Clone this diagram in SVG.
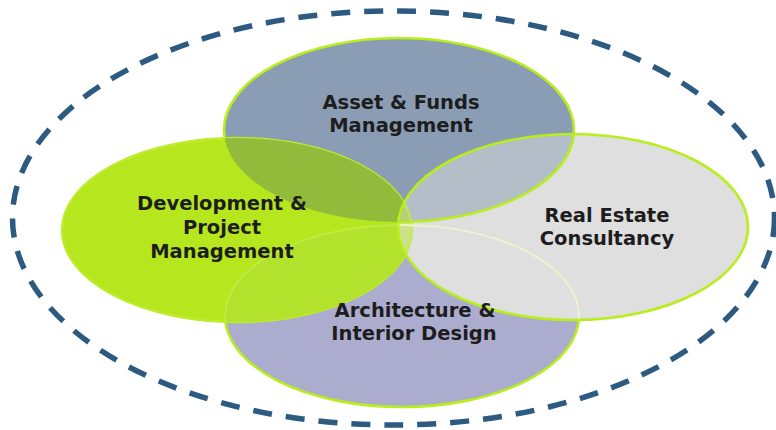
<svg xmlns="http://www.w3.org/2000/svg" width="776" height="430" viewBox="0 0 776 430">
  <style>
    .lbl { font-family: "DejaVu Sans", "Verdana", sans-serif; font-weight: bold; font-size: 19.5px; fill: #1d1d1d; text-anchor: middle; }
    .outline { fill: none; stroke: #b8ee1e; stroke-width: 2.6; }
  </style>
  <defs>
    <clipPath id="clipLeft"><ellipse cx="237" cy="230" rx="175" ry="92"/></clipPath>
    <clipPath id="clipRight"><ellipse cx="573" cy="227" rx="175" ry="93"/></clipPath>
  </defs>

  <g id="boundary">
    <ellipse cx="393.5" cy="218" rx="381" ry="207" fill="none" stroke="#2c5a80" stroke-width="5.5" stroke-dasharray="19 14"/>
  </g>

  <g id="node-architecture">
    <ellipse cx="402" cy="316" rx="177" ry="91" fill="#abacce" class="outline" style="fill:#abacce"/>
  </g>

  <g id="node-asset">
    <ellipse cx="399" cy="130" rx="175" ry="92" class="outline" style="fill:#8a9db4"/>
  </g>

  <g id="node-development">
    <ellipse cx="237" cy="230" rx="175" ry="92" style="fill:#b5e61e;stroke:#bdec2c;stroke-width:2.4"/>
    <g clip-path="url(#clipLeft)">
      <ellipse cx="399" cy="130" rx="175" ry="92" fill="#93bb3b"/>
      <ellipse cx="402" cy="316" rx="177" ry="91" fill="#b3e22c"/>
      <ellipse cx="402" cy="316" rx="177" ry="91" fill="none" stroke="#c8ef5a" stroke-width="2" stroke-opacity="0.6"/>
    </g>
  </g>

  <g id="node-realestate">
    <ellipse cx="573" cy="227" rx="175" ry="93" fill="#dfdfdf"/>
    <g clip-path="url(#clipRight)">
      <ellipse cx="399" cy="130" rx="175" ry="92" fill="#b4bec9"/>
      <ellipse cx="399" cy="130" rx="175" ry="92" class="outline"/>
      <ellipse cx="237" cy="230" rx="175" ry="92" fill="#b5e61e" fill-opacity="0.45"/>
      <ellipse cx="237" cy="230" rx="175" ry="92" fill="none" stroke="#c2ec3c" stroke-width="2.2" stroke-opacity="0.8"/>
      <ellipse cx="402" cy="316" rx="177" ry="91" fill="none" stroke="#eef5cc" stroke-width="2" stroke-opacity="0.9"/>
    </g>
    <ellipse cx="573" cy="227" rx="175" ry="93" class="outline"/>
  </g>

  <g id="labels">
    <text id="label-asset" class="lbl"><tspan x="401" y="109">Asset &amp; Funds</tspan><tspan x="401" y="132">Management</tspan></text>
    <text id="label-development" class="lbl"><tspan x="222" y="210">Development &amp;</tspan><tspan x="222" y="234">Project</tspan><tspan x="222" y="258">Management</tspan></text>
    <text id="label-realestate" class="lbl"><tspan x="607" y="222">Real Estate</tspan><tspan x="607" y="245">Consultancy</tspan></text>
    <text id="label-architecture" class="lbl"><tspan x="415" y="317">Architecture &amp;</tspan><tspan x="414" y="340">Interior Design</tspan></text>
  </g>
</svg>
